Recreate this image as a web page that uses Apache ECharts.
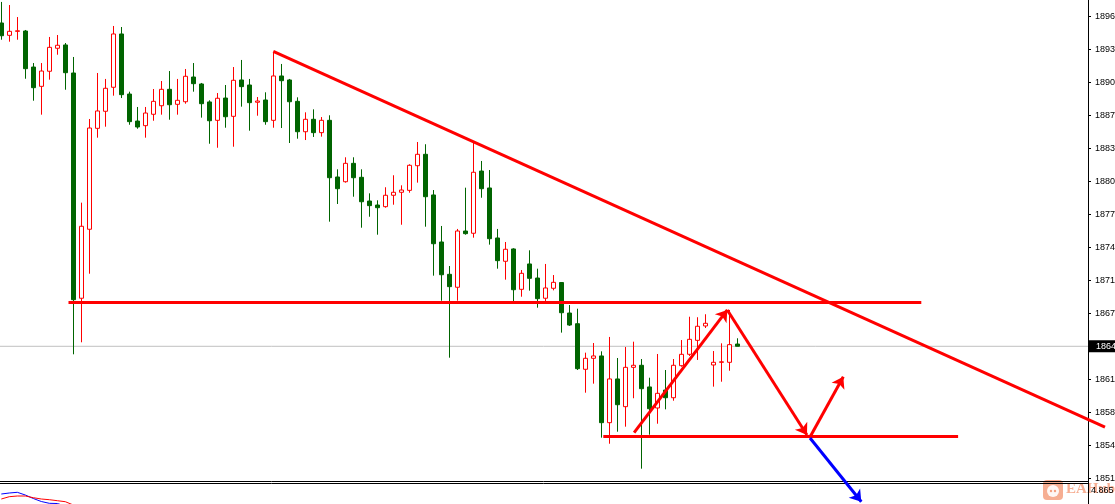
<!DOCTYPE html>
<html><head><meta charset="utf-8">
<script src="https://cdn.jsdelivr.net/npm/echarts@6/dist/echarts.min.js"></script>
<style>html,body{margin:0;padding:0;background:#fff;overflow:hidden}#c{width:1115px;height:504px}</style>
</head><body><div id="c"></div>
<script>
// ---- candle data (one entry per bar, left to right) ----
const opens = [1895.36,1894.16,1894.55,1894.58,1891.07,1889.19,1890.66,1892.90,1893.22,1890.49,
1868.55,1875.27,1885.10,1886.76,1889.10,1894.29,1888.44,1885.81,1885.36,1886.47,
1887.30,1888.90,1887.44,1887.69,1890.10,1889.42,1887.67,1885.88,1888.05,1886.27,
1889.81,1889.32,1887.64,1887.86,1885.88,1890.20,1889.81,1887.73,1884.77,1885.98,
1884.68,1885.88,1880.36,1879.90,1881.69,1880.33,1878.02,1877.63,1877.47,1878.58,
1878.87,1879.06,1881.46,1882.57,1878.61,1874.03,1870.88,1869.62,1875.10,1874.88,
1880.94,1879.29,1874.42,1872.15,1873.35,1869.42,1871.89,1870.52,1868.55,1869.52,
1870.08,1867.11,1866.07,1861.63,1862.70,1862.93,1856.43,1860.69,1857.99,1861.82,
1862.02,1859.91,1857.86,1859.61,1858.86,1861.98,1863.09,1864.45,1865.85,1862.05,
1862.31,1862.31,1864.09];
const closes = [1894.12,1894.55,1894.60,1890.91,1889.06,1890.68,1892.99,1893.19,1890.52,1868.41,
1875.56,1885.13,1886.79,1889.00,1894.29,1888.38,1885.75,1885.23,1886.59,1887.73,
1888.90,1887.40,1887.83,1890.17,1889.45,1887.50,1885.84,1888.03,1886.23,1889.78,
1889.16,1887.60,1887.76,1885.75,1890.20,1889.74,1887.69,1884.77,1885.98,1884.68,
1885.88,1880.29,1879.22,1881.69,1880.29,1877.95,1877.57,1877.37,1878.58,1878.87,
1879.09,1881.50,1882.57,1878.44,1873.86,1870.84,1869.68,1875.10,1874.84,1880.82,
1879.22,1874.35,1872.21,1873.32,1869.38,1870.98,1870.49,1868.51,1869.55,1870.10,
1867.14,1865.94,1861.69,1862.70,1862.93,1856.43,1860.69,1858.18,1861.82,1862.02,
1859.74,1857.79,1859.29,1858.86,1862.02,1863.09,1864.55,1865.82,1866.11,1862.31,
1862.36,1864.03,1863.87];
const lows = [1893.73,1893.54,1893.73,1889.93,1887.79,1886.43,1889.84,1892.27,1888.86,1863.09,
1864.26,1870.94,1884.19,1885.26,1888.28,1888.05,1885.45,1885.06,1884.19,1885.84,
1886.43,1885.94,1886.43,1887.50,1888.67,1886.14,1883.60,1883.21,1885.16,1883.31,
1887.21,1884.87,1886.33,1885.45,1885.16,1885.13,1883.67,1884.09,1883.96,1884.26,
1884.29,1876.01,1877.73,1879.81,1878.44,1875.42,1876.49,1874.74,1877.37,1877.66,
1875.71,1878.83,1879.81,1875.52,1870.75,1868.31,1862.76,1868.31,1874.74,1874.45,
1878.34,1873.77,1871.43,1870.36,1868.21,1868.70,1869.29,1867.63,1868.28,1869.32,
1865.20,1865.85,1861.56,1859.35,1860.23,1854.97,1854.38,1855.55,1856.04,1858.81,
1851.95,1855.26,1856.33,1857.73,1858.57,1861.88,1862.93,1862.54,1865.65,1859.94,
1860.42,1861.49,1863.87];
const highs = [1897.41,1897.11,1895.94,1894.68,1891.46,1891.46,1894.00,1894.19,1893.41,1892.05,
1877.86,1886.01,1890.49,1889.91,1895.07,1894.97,1888.67,1887.18,1887.18,1888.93,
1889.71,1890.68,1889.91,1890.88,1891.46,1889.52,1887.83,1888.54,1889.32,1891.07,
1891.76,1889.91,1888.15,1888.61,1892.51,1891.37,1889.91,1888.12,1886.66,1886.95,
1886.20,1886.37,1881.11,1882.28,1882.28,1881.11,1878.77,1878.09,1879.36,1880.53,
1879.55,1881.60,1883.77,1883.55,1879.09,1875.59,1871.69,1875.30,1879.32,1883.77,
1881.92,1881.04,1875.30,1874.03,1873.42,1871.30,1873.22,1871.43,1871.89,1870.81,
1870.13,1867.89,1867.53,1863.25,1864.19,1863.38,1864.78,1862.73,1863.80,1864.32,
1862.63,1860.81,1863.12,1861.56,1862.63,1864.48,1866.75,1866.70,1866.99,1863.41,
1864.16,1867.41,1864.65];

// total bar slots visible across the chart (empty space on the right)
const SLOT_COUNT = 137;
const slots = Array.from({length: SLOT_COUNT}, (_, i) => String(i));

// ---- price axis ----
const priceTickLabels = ['1851','1854','1858','1861','1864','1867','1871','1874','1877','1880','1883','1887','1890','1893','1896'];
const priceTickStart = 1851;
const priceTickStep = 45 / 14;
const priceTop = 1897.6;
const lastPrice = closes[closes.length - 1];

// ---- drawn objects: [barIndex, price] endpoints ----
const trendLines = [
  [[34, 1892.6], [137.96, 1856.0]],
  [[8.4, 1868.2], [115, 1868.2]],
  [[75.25, 1855.13], [119.6, 1855.13]]
];
const redArrows = [
  [[79.1, 1855.46], [90.75, 1867.41]],
  [[90.75, 1867.41], [100.71, 1855.23]],
  [[101.09, 1855.04], [105.25, 1860.91]]
];
const blueArrows = [
  [[101.09, 1854.94], [107.5, 1848.73]]
];

// ---- indicator sub-window ----
const indicatorBlue = [4.835,4.845,4.852,4.825,4.79,4.76,4.742,4.74,4.715,4.675];
const indicatorRed = [4.785,4.808,4.815,4.815,4.798,4.785,4.778,4.768,4.758,4.725,4.675];
const indicatorTickLabel = '4.865';
const indicatorTickValue = 4.865;

// ---- layout ----
const BAR_PX = 8;
const LEFT = -2.7;
const AXIS_X = 1088;
const pxPerUnit = 33 / priceTickStep;
const priceMin = priceTickStart - priceTickStep;
const mainHeight = (priceTop - priceMin) * pxPerUnit;
const mainW = AXIS_X - LEFT;
const fullW = 1115 - LEFT;

const FONT = '"Liberation Sans", sans-serif';

const chart = echarts.init(document.getElementById('c'), null, {renderer: 'canvas'});
const yCommon = {type: 'value', min: priceMin, max: priceTop};
const gridBase = {outerBoundsMode: 'none', containLabel: false};

chart.setOption({
  animation: false,
  backgroundColor: '#ffffff',
  grid: [
    Object.assign({left: LEFT, top: 0, width: SLOT_COUNT * BAR_PX, height: mainHeight}, gridBase),
    Object.assign({left: LEFT, top: 0, width: mainW, height: mainHeight}, gridBase),
    Object.assign({left: LEFT, top: 0, width: fullW, height: mainHeight}, gridBase),
    Object.assign({left: LEFT, top: 481, width: mainW, height: 64}, gridBase)
  ],
  xAxis: [
    {type: 'category', gridIndex: 0, data: slots, boundaryGap: true, show: false},
    {type: 'value', gridIndex: 1, min: 0, max: 1, show: false},
    {type: 'value', gridIndex: 2, min: -0.5, max: -0.5 + fullW / BAR_PX, show: false},
    {type: 'value', gridIndex: 3, min: -0.5, max: -0.5 + mainW / BAR_PX, position: 'top',
      axisLine: {show: true, onZero: false, lineStyle: {color: '#000', width: 1}}, axisTick: {show: false},
      axisLabel: {show: false}, splitLine: {show: false}},
    {type: 'value', gridIndex: 3, min: -0.5, max: -0.5 + mainW / BAR_PX, position: 'top', offset: -2,
      axisLine: {show: true, onZero: false, lineStyle: {color: '#000', width: 1}}, axisTick: {show: false},
      axisLabel: {show: false}, splitLine: {show: false}}
  ],
  yAxis: [
    Object.assign({gridIndex: 0, show: false}, yCommon),
    Object.assign({gridIndex: 1, position: 'right', interval: priceTickStep,
      axisLine: {show: true, onZero: false, lineStyle: {color: '#000', width: 1}},
      axisTick: {show: true, length: 3, lineStyle: {color: '#000'}},
      splitLine: {show: false},
      axisLabel: {show: true, color: '#000', fontFamily: FONT, fontSize: 9, margin: 7,
        showMaxLabel: false, showMinLabel: false,
        formatter: function (v) {
          const k = Math.round((v - priceTickStart) / priceTickStep);
          return (k >= 0 && k < priceTickLabels.length) ? priceTickLabels[k] : '';
        }}
    }, yCommon),
    Object.assign({gridIndex: 2, show: false}, yCommon),
    {type: 'value', gridIndex: 3, position: 'right', min: 4.325, max: 4.965, interval: 0.54,
      axisLine: {show: true, onZero: false, lineStyle: {color: '#000', width: 1}},
      axisTick: {show: false}, splitLine: {show: false},
      axisLabel: {show: true, color: '#000', fontFamily: FONT, fontSize: 9, margin: 3,
        showMaxLabel: false, showMinLabel: false,
        formatter: function (v) { return Math.abs(v - indicatorTickValue) < 1e-6 ? indicatorTickLabel : ''; }}
    }
  ],
  graphic: [
    {type: 'group', left: 1043, top: 480, z: -1, children: [
      {type: 'rect', shape: {x: 0, y: 0, width: 20, height: 20, r: 4}, style: {fill: '#F4A07F', opacity: 0.85}},
      {type: 'circle', shape: {cx: 10, cy: 11, r: 6}, style: {fill: '#ffffff', opacity: 0.9}},
      {type: 'circle', shape: {cx: 8, cy: 11, r: 1.2}, style: {fill: '#F4A07F'}},
      {type: 'circle', shape: {cx: 12, cy: 11, r: 1.2}, style: {fill: '#F4A07F'}}
    ]},
    {type: 'text', left: 1066, top: 482, z: -1, style: {text: 'EAHub', fill: '#F4A07F', opacity: 0.85,
      font: 'bold 15px "Liberation Serif"'}}
  ],
  series: [
    {
      type: 'line', xAxisIndex: 1, yAxisIndex: 1, z: 1, silent: true,
      data: [[0, lastPrice], [1, lastPrice]], symbol: 'none',
      lineStyle: {color: '#C0C0C0', width: 1},
      endLabel: {show: true, distance: 0, formatter: function () { return String(Math.round(lastPrice)); },
        backgroundColor: '#000', color: '#fff', fontFamily: FONT, fontSize: 9, padding: [2, 6, 1, 8]}
    },
    {
      type: 'candlestick', xAxisIndex: 0, yAxisIndex: 0, z: 2, silent: true, barWidth: 4,
      data: opens.map((o, i) => [o, closes[i], lows[i], highs[i]]),
      itemStyle: {color: '#ffffff', color0: '#006400', borderColor: '#FF0000', borderColor0: '#006400', borderWidth: 1}
    },
    {
      type: 'lines', coordinateSystem: 'cartesian2d', xAxisIndex: 2, yAxisIndex: 2, z: 3, silent: true,
      data: trendLines.map(c => ({coords: c})), symbol: 'none',
      lineStyle: {color: '#FF0000', width: 3, opacity: 1}
    },
    {
      type: 'lines', coordinateSystem: 'cartesian2d', xAxisIndex: 2, yAxisIndex: 2, z: 3, silent: true,
      data: redArrows.map(c => ({coords: c})), symbol: ['none', 'arrow'], symbolSize: 11,
      lineStyle: {color: '#FF0000', width: 3, opacity: 1}
    },
    {
      type: 'lines', coordinateSystem: 'cartesian2d', xAxisIndex: 2, yAxisIndex: 2, z: 4, silent: true,
      data: blueArrows.map(c => ({coords: c})), symbol: ['none', 'arrow'], symbolSize: 11,
      lineStyle: {color: '#0000FF', width: 3, opacity: 1}
    },
    {
      type: 'line', xAxisIndex: 3, yAxisIndex: 3, silent: true, symbol: 'none',
      data: indicatorBlue.map((v, i) => [i, v]), lineStyle: {color: '#0000FF', width: 1}
    },
    {
      type: 'line', xAxisIndex: 3, yAxisIndex: 3, silent: true, symbol: 'none',
      data: indicatorRed.map((v, i) => [i, v]), lineStyle: {color: '#FF0000', width: 1}
    }
  ]
});
</script>
</body></html>
